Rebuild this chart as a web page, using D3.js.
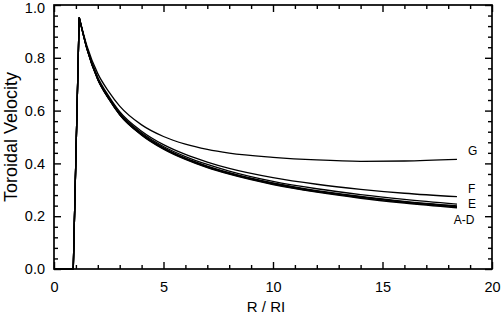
<!DOCTYPE html>
<html>
<head>
<meta charset="utf-8">
<script src="https://cdn.jsdelivr.net/npm/d3@7"></script>
<style>
  body { margin: 0; background: #fff; }
  text { font-family: "Liberation Sans", Arial, sans-serif; fill: #000; }
</style>
</head>
<body>
<div id="viz"></div>
<script>
// radius values (R / RI) where curves were read
const riseR = [0, 0.88, 1.15];
const riseV = [0, 0, 0.953];
const decayR = [1.15, 1.5, 2, 2.5, 3, 4, 5, 6, 7, 8, 10, 12, 14, 16, 18.4];

const seriesA = [0.953, 0.834, 0.717, 0.644, 0.584, 0.507, 0.454, 0.415, 0.384, 0.359, 0.320, 0.291, 0.268, 0.250, 0.232];
const seriesB = [0.953, 0.835, 0.718, 0.645, 0.585, 0.509, 0.456, 0.417, 0.386, 0.361, 0.322, 0.293, 0.271, 0.252, 0.235];
const seriesC = [0.953, 0.836, 0.719, 0.646, 0.586, 0.510, 0.458, 0.419, 0.388, 0.363, 0.324, 0.295, 0.273, 0.254, 0.237];
const seriesD = [0.953, 0.836, 0.720, 0.647, 0.587, 0.511, 0.459, 0.420, 0.390, 0.365, 0.326, 0.297, 0.275, 0.256, 0.239];
const seriesE = [0.953, 0.838, 0.722, 0.650, 0.591, 0.516, 0.464, 0.426, 0.396, 0.371, 0.332, 0.304, 0.282, 0.264, 0.246];
const seriesF = [0.953, 0.840, 0.726, 0.655, 0.596, 0.522, 0.471, 0.434, 0.405, 0.381, 0.346, 0.321, 0.302, 0.287, 0.274];
const seriesG = [0.953, 0.846, 0.740, 0.672, 0.617, 0.546, 0.502, 0.473, 0.453, 0.439, 0.423, 0.413, 0.408, 0.409, 0.415];

const allSeries = [seriesA, seriesB, seriesC, seriesD, seriesE, seriesF, seriesG];
const curveLabels = ["G", "F", "E", "A-D"];

const xTicksMajor = [0, 5, 10, 15, 20];
const yTicksMajor = [0.0, 0.2, 0.4, 0.6, 0.8, 1.0];

const W = 501, H = 316;
const pLeft = 54, pRight = 492, pTop = 5, pBottom = 269;

const svg = d3.select("#viz").append("svg")
  .attr("width", W)
  .attr("height", H);

const x = d3.scaleLinear().domain([0, 20]).range([pLeft, pRight]);
const y = d3.scaleLinear().domain([0, 1]).range([pBottom, pTop]);

const xMinor = d3.range(0, 21, 1).filter(v => v % 5 !== 0);
const yMinor = d3.range(0, 1.0001, 0.04).filter(v => Math.abs(v / 0.2 - Math.round(v / 0.2)) > 1e-6);

function tickStyle(g) {
  g.select(".domain").remove();
  g.selectAll("line").attr("stroke", "#000").attr("stroke-width", 1.4);
  g.selectAll("text").attr("font-size", 14.5).attr("fill", "#000")
    .attr("font-family", "'Liberation Sans', Arial, sans-serif");
}

// bottom
svg.append("g").attr("transform", `translate(0,${pBottom})`)
  .call(d3.axisBottom(x).tickValues(xTicksMajor).tickSize(-7).tickSizeOuter(0).tickPadding(13).tickFormat(d3.format("d")))
  .call(tickStyle);
svg.append("g").attr("transform", `translate(0,${pBottom})`)
  .call(d3.axisBottom(x).tickValues(xMinor).tickSize(-4).tickSizeOuter(0).tickFormat(""))
  .call(tickStyle);
// top
svg.append("g").attr("transform", `translate(0,${pTop})`)
  .call(d3.axisTop(x).tickValues(xTicksMajor).tickSize(-7).tickSizeOuter(0).tickFormat(""))
  .call(tickStyle);
svg.append("g").attr("transform", `translate(0,${pTop})`)
  .call(d3.axisTop(x).tickValues(xMinor).tickSize(-4).tickSizeOuter(0).tickFormat(""))
  .call(tickStyle);
// left
const leftAxis = svg.append("g").attr("transform", `translate(${pLeft},0)`)
  .call(d3.axisLeft(y).tickValues(yTicksMajor).tickSize(-7).tickSizeOuter(0).tickPadding(9).tickFormat(d3.format(".1f")))
  .call(tickStyle);
// top label sits a little lower so it stays inside the page
leftAxis.selectAll("text").filter(d => d === 1).attr("y", 3);
svg.append("g").attr("transform", `translate(${pLeft},0)`)
  .call(d3.axisLeft(y).tickValues(yMinor).tickSize(-4).tickSizeOuter(0).tickFormat(""))
  .call(tickStyle);
// right
svg.append("g").attr("transform", `translate(${pRight},0)`)
  .call(d3.axisRight(y).tickValues(yTicksMajor).tickSize(-7).tickSizeOuter(0).tickFormat(""))
  .call(tickStyle);
svg.append("g").attr("transform", `translate(${pRight},0)`)
  .call(d3.axisRight(y).tickValues(yMinor).tickSize(-4).tickSizeOuter(0).tickFormat(""))
  .call(tickStyle);

// curves: linear rise, smooth decay
const rise = d3.line().x((d, i) => x(riseR[i])).y(d => y(d));
const decay = d3.line().x((d, i) => x(decayR[i])).y(d => y(d)).curve(d3.curveMonotoneX);

allSeries.forEach(s => {
  svg.append("path")
    .attr("d", rise(riseV) + decay(s).replace(/^M/, "L"))
    .attr("fill", "none")
    .attr("stroke", "#000")
    .attr("stroke-width", 1.3)
    .attr("stroke-linejoin", "miter");
});

// frame
svg.append("rect")
  .attr("x", pLeft).attr("y", pTop)
  .attr("width", pRight - pLeft).attr("height", pBottom - pTop)
  .attr("fill", "none").attr("stroke", "#000").attr("stroke-width", 1.7);

// curve labels
const labelPos = [
  { x: 18.9, y: 0.432, anchor: "start" },
  { x: 18.9, y: 0.289, anchor: "start" },
  { x: 18.9, y: 0.232, anchor: "start" },
  { x: 19.2, y: 0.170, anchor: "end" }
];
curveLabels.forEach((t, i) => {
  svg.append("text")
    .attr("x", x(labelPos[i].x))
    .attr("y", y(labelPos[i].y))
    .attr("text-anchor", labelPos[i].anchor)
    .attr("font-size", 12)
    .text(t);
});

// axis titles
svg.append("text")
  .attr("x", 266).attr("y", 312)
  .attr("text-anchor", "middle")
  .attr("font-size", 15)
  .text("R / RI");

svg.append("text")
  .attr("transform", `translate(16.5,${(pTop + pBottom) / 2}) rotate(-90)`)
  .attr("text-anchor", "middle")
  .attr("font-size", 18)
  .text("Toroidal Velocity");
</script>
</body>
</html>
